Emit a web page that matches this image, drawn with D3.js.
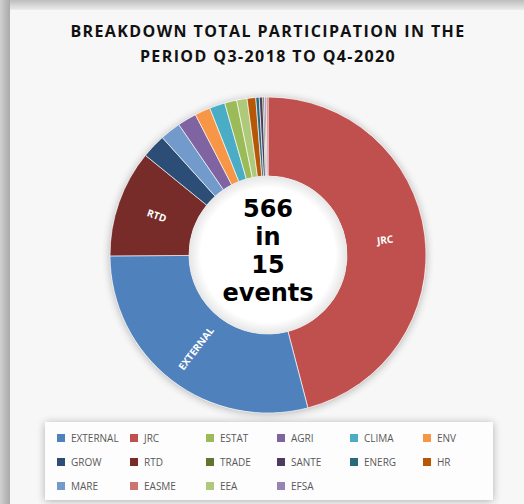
<!DOCTYPE html>
<html>
<head>
<meta charset="utf-8">
<script src="https://cdn.jsdelivr.net/npm/d3@7"></script>
<style>
  body { margin: 0; background: #fff; }
  svg { display: block; }
</style>
</head>
<body>
<svg width="524" height="504"></svg>
<script>
// legend order (as in the excel chart)
var legendNames = ["EXTERNAL", "JRC", "ESTAT", "AGRI", "CLIMA", "ENV",
                   "GROW", "RTD", "TRADE", "SANTE", "ENERG", "HR",
                   "MARE", "EASME", "EEA", "EFSA"];
var legendColors = ["#4f81bd", "#c0504d", "#9bbb59", "#8064a2", "#4bacc6", "#f79646",
                    "#2c4d75", "#772c2a", "#5f7530", "#4d3b62", "#276a7c", "#b65708",
                    "#729aca", "#cd7371", "#afc97a", "#9983b5"];

// slices clockwise from 12 o'clock
var sliceNames  = ["JRC", "EXTERNAL", "RTD", "GROW", "MARE", "AGRI", "ENV", "CLIMA",
                   "ESTAT", "EEA", "HR", "ENERG", "SANTE", "TRADE", "EFSA", "EASME"];
var sliceValues = [260, 164, 62, 14, 12, 11, 9, 9, 7, 6, 5, 2, 2, 1, 1, 1];
var labelled = ["JRC", "EXTERNAL", "RTD"];
var centerLines = ["566", "in", "15", "events"];
var titleLines = ["BREAKDOWN TOTAL PARTICIPATION IN THE", "PERIOD Q3-2018 TO Q4-2020"];

var svg = d3.select('svg');

var defs = svg.append('defs');
var sh = defs.append('filter').attr('id', 'shadow')
    .attr('x', '-20%').attr('y', '-20%').attr('width', '140%').attr('height', '140%');
sh.append('feGaussianBlur').attr('in', 'SourceAlpha').attr('stdDeviation', 4);
sh.append('feOffset').attr('dx', 0).attr('dy', 1).attr('result', 'b');
sh.append('feComponentTransfer').append('feFuncA').attr('type', 'linear').attr('slope', 0.3);
var m = sh.append('feMerge');
m.append('feMergeNode');
m.append('feMergeNode').attr('in', 'SourceGraphic');

var edge = defs.append('linearGradient').attr('id', 'topedge').attr('x1', 0).attr('y1', 0).attr('x2', 0).attr('y2', 1);
edge.append('stop').attr('offset', 0).attr('stop-color', '#bdbdbd');
edge.append('stop').attr('offset', 1).attr('stop-color', '#ececec');
var ledge = defs.append('linearGradient').attr('id', 'leftedge').attr('x1', 0).attr('y1', 0).attr('x2', 1).attr('y2', 0);
ledge.append('stop').attr('offset', 0).attr('stop-color', '#d0d0d0');
ledge.append('stop').attr('offset', 1).attr('stop-color', '#a9a9a9');

var hole = defs.append('radialGradient').attr('id', 'hole');
hole.append('stop').attr('offset', 0.85).attr('stop-color', '#ffffff');
hole.append('stop').attr('offset', 1).attr('stop-color', '#e6e6e6');

// screenshot frame
svg.append('rect').attr('x', 0).attr('y', 0).attr('width', 524).attr('height', 10).attr('fill', 'url(#topedge)');
svg.append('rect').attr('x', 0).attr('y', 0).attr('width', 10).attr('height', 504).attr('fill', 'url(#leftedge)');
svg.append('rect').attr('x', 10).attr('y', 10).attr('width', 514).attr('height', 494).attr('fill', '#f7f7f7');

// title
svg.selectAll('.title')
    .data(titleLines)
    .enter()
    .append('text')
    .attr('class', 'title')
    .attr('x', 268)
    .attr('y', function(d, i){ return 37 + i * 25; })
    .attr('text-anchor', 'middle')
    .style('font-family', 'Open Sans')
    .style('font-weight', 'bold')
    .style('font-size', '16px')
    .style('letter-spacing', '1.4px')
    .style('fill', '#111')
    .text(function(d){ return d; });

// donut
var cx = 268, cy = 255, outerR = 158, innerR = 79;
var g = svg.append('g').attr('transform', 'translate(' + cx + ',' + cy + ')');

var color = d3.scaleOrdinal().domain(legendNames).range(legendColors);

var pieData = sliceNames.map(function(n, i){ return {name: n, value: sliceValues[i]}; });
var pie = d3.pie().sort(null).value(function(d){ return d.value; });
var arc = d3.arc().innerRadius(innerR).outerRadius(outerR);
var labelArc = d3.arc().innerRadius(118).outerRadius(118);

var slices = pie(pieData);

g.append('circle').attr('r', outerR).attr('fill', '#fff').attr('filter', 'url(#shadow)');

g.selectAll('.slice')
    .data(slices)
    .enter()
    .append('path')
    .attr('class', 'slice')
    .attr('d', arc)
    .attr('fill', function(d){ return color(d.data.name); })
    .attr('stroke', '#ffffff')
    .attr('stroke-opacity', 0.8)
    .attr('stroke-width', 0.8);

g.append('circle').attr('r', innerR).attr('fill', 'url(#hole)');

g.selectAll('.lbl')
    .data(slices.filter(function(d){ return labelled.indexOf(d.data.name) >= 0; }))
    .enter()
    .append('text')
    .attr('class', 'lbl')
    .attr('transform', function(d){
        var c = labelArc.centroid(d);
        var mid = (d.startAngle + d.endAngle) / 2 * 180 / Math.PI;
        var rot = mid < 180 ? mid - 90 : mid - 270;
        return 'translate(' + c[0] + ',' + c[1] + ')rotate(' + rot + ')';
    })
    .attr('text-anchor', 'middle')
    .attr('dy', '0.35em')
    .style('font-family', 'Open Sans')
    .style('font-weight', 'bold')
    .style('font-size', '10px')
    .style('fill', '#ffffff')
    .text(function(d){ return d.data.name; });

g.selectAll('.center')
    .data(centerLines)
    .enter()
    .append('text')
    .attr('class', 'center')
    .attr('x', 0)
    .attr('y', function(d, i){ return -38 + i * 28; })
    .attr('text-anchor', 'middle')
    .style('font-family', 'DejaVu Sans')
    .style('font-weight', 'bold')
    .style('font-size', '24px')
    .style('fill', '#000')
    .text(function(d){ return d; });

// legend
svg.append('rect').attr('x', 45).attr('y', 422).attr('width', 448).attr('height', 78)
    .attr('fill', '#fdfdfd').attr('filter', 'url(#shadow)');

var colX = [57, 130, 206, 277, 350, 423];
var legend = svg.selectAll('.leg')
    .data(legendNames)
    .enter()
    .append('g')
    .attr('class', 'leg')
    .attr('transform', function(d, i){
        return 'translate(' + colX[i % 6] + ',' + (438 + Math.floor(i / 6) * 24) + ')';
    });

legend.append('rect')
    .attr('x', 0).attr('y', -4)
    .attr('width', 8).attr('height', 8)
    .attr('fill', function(d){ return color(d); });

legend.append('text')
    .attr('x', 14)
    .attr('dy', '0.35em')
    .style('font-family', 'Open Sans')
    .style('font-size', '10px')
    .style('fill', '#595959')
    .text(function(d){ return d; });
</script>
</body>
</html>
